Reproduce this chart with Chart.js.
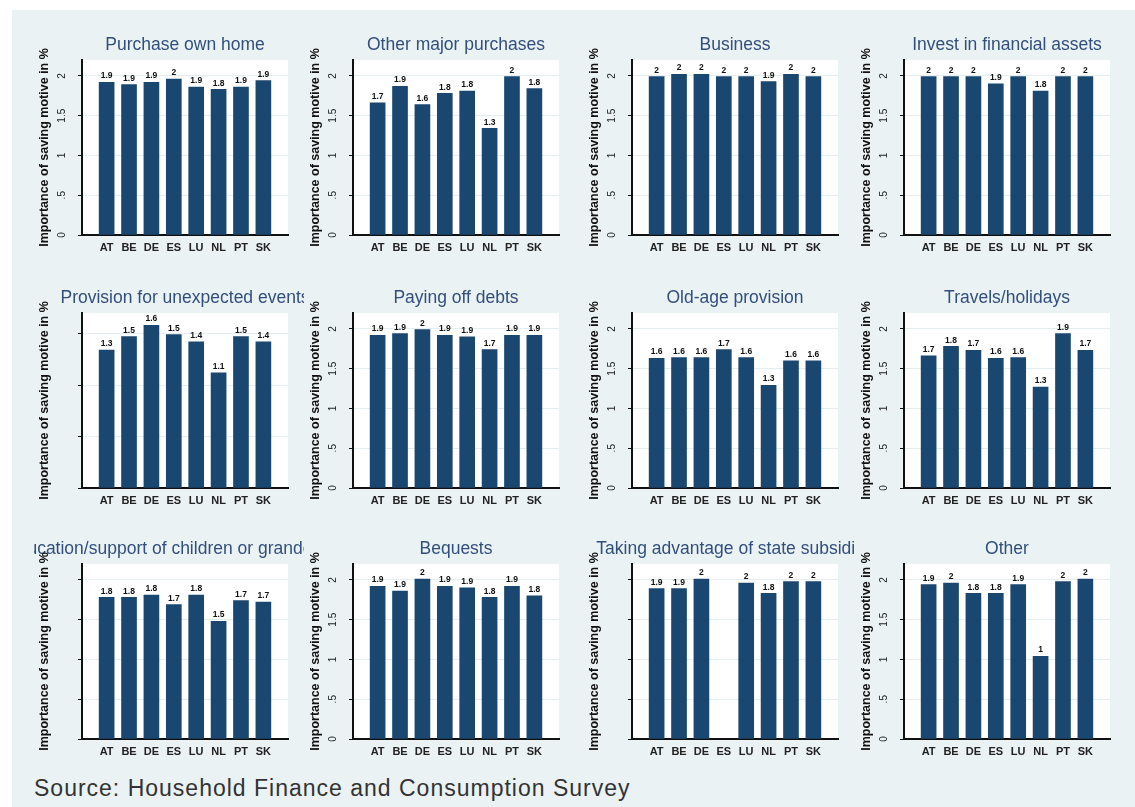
<!DOCTYPE html>
<html>
<head>
<meta charset="utf-8">
<script src="https://cdn.jsdelivr.net/npm/chart.js@4.4.1/dist/chart.umd.min.js"></script>
<style>
    html, body { margin: 0; padding: 0; background: #ffffff; }
    #page { position: absolute; left: 12px; top: 10px; width: 1123px; height: 797px; background: #eaf2f3; }
    .panel { position: absolute; width: 270px; height: 230px; }
    #source { position: absolute; left: 34px; top: 775px; font: 23px Arial, "Liberation Sans", sans-serif;
              letter-spacing: 1px; color: #333333; white-space: nowrap; }
</style>
</head>
<body>
<div id="page"></div>
<div id="source">Source: Household Finance and Consumption Survey</div>
<script>
// categories and tick labels
const countries = ['AT', 'BE', 'DE', 'ES', 'LU', 'NL', 'PT', 'SK'];
const yTickValues = [0, 0.5, 1, 1.5, 2];
const yTickLabels = ['0', '.5', '1', '1.5', '2'];
const yTitle = 'Importance of saving motive in %';

// one series per saving motive
const purchaseHome     = [1.92, 1.89, 1.92, 1.96, 1.86, 1.83, 1.86, 1.94];
const otherPurchases   = [1.66, 1.87, 1.64, 1.78, 1.81, 1.34, 1.99, 1.84];
const business         = [1.99, 2.02, 2.02, 1.99, 1.99, 1.93, 2.02, 1.99];
const financialAssets  = [1.99, 1.99, 1.99, 1.90, 1.99, 1.81, 1.99, 1.99];
const unexpectedEvents = [1.34, 1.47, 1.58, 1.49, 1.42, 1.12, 1.47, 1.42];
const payingDebts      = [1.92, 1.94, 1.99, 1.92, 1.90, 1.74, 1.92, 1.92];
const oldAge           = [1.63, 1.64, 1.64, 1.74, 1.64, 1.29, 1.60, 1.60];
const travels          = [1.66, 1.78, 1.73, 1.63, 1.64, 1.27, 1.94, 1.73];
const education        = [1.78, 1.78, 1.81, 1.69, 1.81, 1.48, 1.74, 1.72];
const bequests         = [1.92, 1.86, 2.01, 1.92, 1.90, 1.78, 1.92, 1.80];
const stateSubsidies   = [1.89, 1.89, 2.01, null, 1.96, 1.83, 1.98, 1.98];
const otherMotive      = [1.94, 1.96, 1.83, 1.83, 1.94, 1.04, 1.98, 2.01];

const panelTitles = [
    'Purchase own home', 'Other major purchases', 'Business', 'Invest in financial assets',
    'Provision for unexpected events', 'Paying off debts', 'Old-age provision', 'Travels/holidays',
    'Education/support of children or grandchildren', 'Bequests', 'Taking advantage of state subsidies', 'Other'
];
const panelSeries = [
    purchaseHome, otherPurchases, business, financialAssets,
    unexpectedEvents, payingDebts, oldAge, travels,
    education, bequests, stateSubsidies, otherMotive
];
const panelMax = [2.2, 2.2, 2.2, 2.2, 1.7, 2.2, 2.2, 2.2, 2.2, 2.2, 2.2, 2.2];
const panelTickLabels = [true, true, true, true, false, true, true, true, false, true, false, true];

// layout of the 3x4 grid
const colAxisX = [82, 353, 632, 904];
const rowTop = [60, 313, 564];

const barColor = '#1a476f';

function fmt(v) {
    return String(Math.round(v * 10) / 10);
}

const panelDecor = {
    id: 'panelDecor',
    beforeDraw(chart) {
        const { ctx, chartArea: a } = chart;
        ctx.save();
        ctx.fillStyle = '#ffffff';
        ctx.fillRect(a.left, a.top, a.right - a.left, a.bottom - a.top);
        ctx.restore();
    },
    afterDatasetsDraw(chart) {
        const ctx = chart.ctx;
        const meta = chart.getDatasetMeta(0);
        const data = chart.data.datasets[0].data;
        ctx.save();
        ctx.font = 'bold 8.5px Arial, "Liberation Sans", sans-serif';
        ctx.fillStyle = '#111111';
        ctx.textAlign = 'center';
        ctx.textBaseline = 'bottom';
        meta.data.forEach((bar, i) => {
            const v = data[i].y;
            if (v == null) return;
            ctx.fillText(fmt(v), bar.x, bar.y - 2);
        });
        ctx.restore();
    },
    afterDraw(chart, args, opts) {
        const { ctx, chartArea: a } = chart;
        const yScale = chart.scales.y;

        // panel title
        ctx.save();
        ctx.font = '17.5px Arial, "Liberation Sans", sans-serif';
        ctx.fillStyle = '#324f7c';
        ctx.textAlign = 'center';
        ctx.textBaseline = 'middle';
        ctx.fillText(opts.title, (a.left + a.right) / 2, a.top - 15);
        ctx.restore();

        // y axis title, reads bottom to top
        ctx.save();
        ctx.translate(11, (a.top + a.bottom) / 2);
        ctx.rotate(-Math.PI / 2);
        ctx.font = 'bold 12.5px Arial, "Liberation Sans", sans-serif';
        ctx.fillStyle = '#111111';
        ctx.textAlign = 'center';
        ctx.textBaseline = 'middle';
        ctx.fillText(yTitle, 0, 0, 205);
        ctx.restore();

        // rotated y tick labels
        if (opts.showTicks) {
            ctx.save();
            ctx.font = '10px Arial, "Liberation Sans", sans-serif';
            ctx.fillStyle = '#222222';
            ctx.textAlign = 'center';
            ctx.textBaseline = 'middle';
            yTickValues.forEach((v, i) => {
                if (v > yScale.max) return;
                ctx.save();
                ctx.translate(28, yScale.getPixelForValue(v));
                ctx.rotate(-Math.PI / 2);
                ctx.fillText(yTickLabels[i], 0, 0);
                ctx.restore();
            });
            ctx.restore();
        }
    }
};

const page = document.body;

panelSeries.forEach((series, p) => {
    const col = p % 4;
    const row = Math.floor(p / 4);
    const canvas = document.createElement('canvas');
    canvas.className = 'panel';
    canvas.width = 270;
    canvas.height = 230;
    canvas.style.left = (colAxisX[col] - 48) + 'px';
    canvas.style.top = (rowTop[row] - 30) + 'px';
    page.appendChild(canvas);

    new Chart(canvas.getContext('2d'), {
        type: 'bar',
        data: {
            datasets: [{
                data: series.map((v, i) => ({ x: i, y: v })),
                backgroundColor: barColor,
                barThickness: 15
            }]
        },
        options: {
            responsive: false,
            animation: false,
            events: [],
            layout: { padding: { left: 0, top: 30, right: 16, bottom: 5 } },
            plugins: {
                legend: { display: false },
                tooltip: { enabled: false },
                panelDecor: { title: panelTitles[p], showTicks: panelTickLabels[p] }
            },
            scales: {
                x: {
                    type: 'linear',
                    min: -1.1,
                    max: 8.1,
                    offset: false,
                    bounds: 'data',
                    afterBuildTicks: s => { s.ticks = countries.map((c, i) => ({ value: i })); },
                    afterFit: s => { s.height = 20; },
                    grid: { display: false, drawTicks: false, offset: false },
                    border: { display: true, color: '#111111', width: 2 },
                    ticks: {
                        autoSkip: false,
                        maxRotation: 0,
                        padding: 6,
                        color: '#222222',
                        font: { family: 'Arial, "Liberation Sans", sans-serif', size: 11, weight: 'bold' },
                        callback: v => countries[v]
                    }
                },
                y: {
                    min: 0,
                    max: panelMax[p],
                    afterBuildTicks: s => { s.ticks = yTickValues.filter(v => v <= s.max).map(v => ({ value: v })); },
                    afterFit: s => { s.width = 48; },
                    grid: { color: '#e4edef', lineWidth: 1, drawTicks: true, tickLength: 4, tickColor: '#111111' },
                    border: { display: true, color: '#111111', width: 2 },
                    ticks: { display: false }
                }
            }
        },
        plugins: [panelDecor]
    });
});
</script>
</body>
</html>
